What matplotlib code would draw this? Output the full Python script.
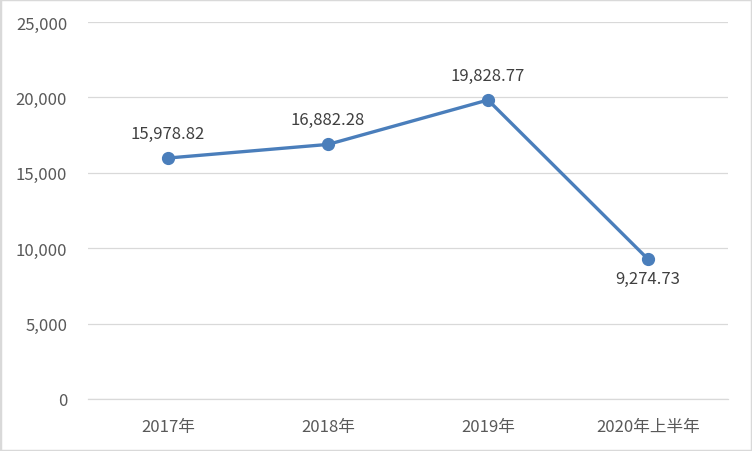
import matplotlib.pyplot as plt
from matplotlib.patches import Rectangle

plt.rcParams['font.family'] = ['Noto Sans CJK SC', 'DejaVu Sans']

categories = ['2017年', '2018年', '2019年', '2020年上半年']
values = [15978.82, 16882.28, 19828.77, 9274.73]
label_pos = ['above', 'above', 'above', 'below']

fig = plt.figure(figsize=(7.52, 4.52), dpi=100)
ax = fig.add_axes([88 / 752, 52 / 452, 640 / 752, 377 / 452])

x = list(range(len(categories)))
ax.plot(x, values, color='#4A7EBB', linewidth=2.4, marker='o', markersize=8.5,
        solid_capstyle='round', zorder=3)

for xi, v, pos in zip(x, values, label_pos):
    dy = 18 if pos == 'above' else -14
    ax.annotate(f'{v:,.2f}', (xi, v), xytext=(0, dy), textcoords='offset points',
                ha='center', va='center', fontsize=12, color='#404040')

ax.set_xlim(-0.5, len(categories) - 0.5)
ax.set_ylim(0, 25000)
ax.set_yticks(range(0, 25001, 5000))
ax.set_yticklabels([f'{t:,}' for t in range(0, 25001, 5000)])
ax.set_xticks(x)
ax.set_xticklabels(categories)
ax.tick_params(axis='both', length=0, labelsize=12, labelcolor='#595959')
ax.tick_params(axis='x', pad=14)
ax.tick_params(axis='y', pad=15)

ax.grid(axis='y', color='#D9D9D9', linewidth=0.9)
ax.set_axisbelow(True)
for s in ['top', 'right', 'left']:
    ax.spines[s].set_visible(False)
ax.spines['bottom'].set_color('#D9D9D9')
ax.spines['bottom'].set_linewidth(0.9)

fig.patches.append(Rectangle((0, 0), 1, 1, transform=fig.transFigure, fill=False,
                             edgecolor='#D9D9D9', linewidth=2.5))

fig.savefig('out.png', dpi=100)
